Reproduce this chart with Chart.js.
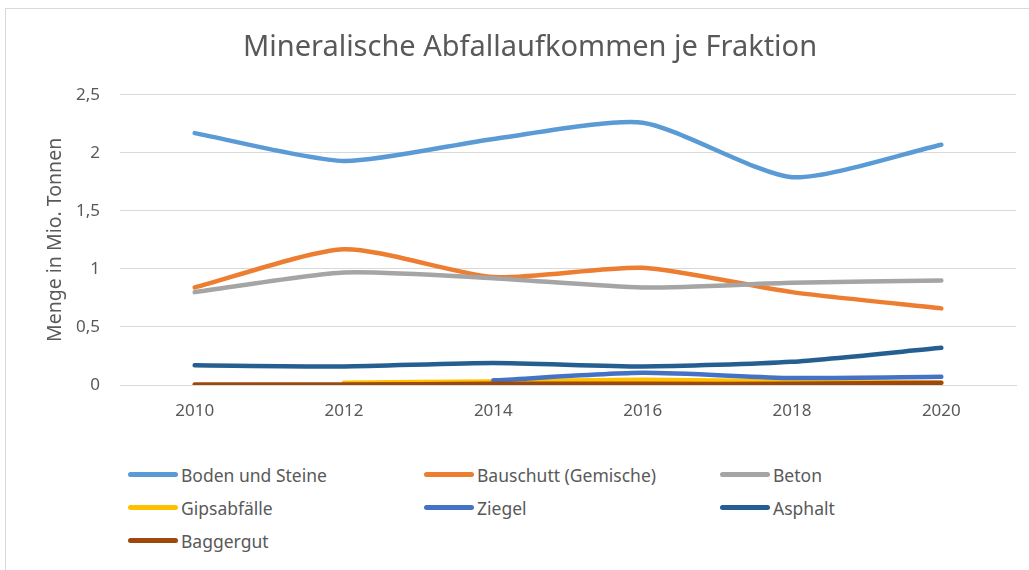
<!DOCTYPE html>
<html lang="de">
  <head>
    <meta charset="UTF-8" />
    <title>Mineralische Abfallaufkommen</title>
    <script src="https://cdn.jsdelivr.net/npm/chart.js"></script>
    <style>
      body { margin: 0; background: #fff; width: 1029px; height: 570px; overflow: hidden; position: relative; }
      #frame { position: absolute; left: 5px; top: 8px; width: 1040px; height: 600px; border: 1px solid #d9d9d9; box-sizing: border-box; }
      #box { position: absolute; left: 0; top: 0; width: 1029px; height: 441px; }
      #legend { position: absolute; left: 128px; top: 458px; display: grid; grid-template-columns: 296px 296px 296px; grid-auto-rows: 33px; }
      .item { display: flex; align-items: center; font: 17.5px "Noto Sans", sans-serif; color: #595959; }
      .swatch { width: 50px; height: 5px; border-radius: 3px; margin-right: 3px; }
    </style>
  </head>
  <body>
    <div id="frame"></div>
    <div id="box"><canvas id="chart"></canvas></div>
    <div id="legend"></div>

    <script>
      // Jahre und Werte (Mio. Tonnen)
      const years = ["2010", "2012", "2014", "2016", "2018", "2020"];
      const names = ["Boden und Steine", "Bauschutt (Gemische)", "Beton", "Gipsabfälle", "Ziegel", "Asphalt", "Baggergut"];
      const colors = ["#5B9BD5", "#ED7D31", "#A5A5A5", "#FFC000", "#4472C4", "#255E91", "#9E480E"];

      const bodenUndSteine = [2.17, 1.93, 2.12, 2.26, 1.79, 2.07];
      const bauschutt = [0.84, 1.17, 0.93, 1.01, 0.8, 0.66];
      const beton = [0.8, 0.97, 0.92, 0.84, 0.88, 0.9];
      const gipsabfaelle = [null, 0.02, 0.03, 0.045, 0.03, 0.02];
      const ziegel = [null, null, 0.04, 0.105, 0.06, 0.07];
      const asphalt = [0.17, 0.16, 0.19, 0.16, 0.2, 0.32];
      const baggergut = [0.005, 0.005, 0.01, 0.01, 0.01, 0.02];

      const yTicks = [0, 0.5, 1, 1.5, 2, 2.5];

      const series = [bodenUndSteine, bauschutt, beton, gipsabfaelle, ziegel, asphalt, baggergut];
      const font = "'Noto Sans', sans-serif";
      const grey = "#595959";

      const datasets = series.map((values, i) => ({
        label: names[i],
        data: values,
        borderColor: colors[i],
        backgroundColor: colors[i],
        borderWidth: 4.5,
        borderCapStyle: "round",
        pointRadius: 0,
        tension: 0.22,
        order: series.length - i,
      }));

      const ctx = document.getElementById("chart").getContext("2d");
      const chart = new Chart(ctx, {
        type: "line",
        data: { labels: years, datasets: datasets },
        options: {
          responsive: true,
          maintainAspectRatio: false,
          animation: false,
          layout: { padding: { left: 44, right: 13, top: 0, bottom: 16 } },
          plugins: {
            legend: { display: false },
            tooltip: { enabled: false },
            title: {
              display: true,
              text: "Mineralische Abfallaufkommen je Fraktion",
              color: grey,
              font: { family: font, size: 29, weight: "normal" },
              padding: { top: 30, bottom: 30 },
            },
          },
          scales: {
            x: {
              offset: true,
              grid: { display: false, drawTicks: false },
              border: { color: "#d9d9d9" },
              ticks: { color: grey, font: { family: font, size: 17 }, padding: 16, maxRotation: 0 },
              afterFit: (s) => { s.height = 40; },
            },
            y: {
              min: 0,
              max: 2.5,
              afterBuildTicks: (s) => { s.ticks = yTicks.map((v) => ({ value: v })); },
              grid: { color: "#d9d9d9", drawTicks: false },
              border: { display: false },
              ticks: {
                color: grey,
                font: { family: font, size: 17 },
                padding: 20,
                callback: (v) => String(v).replace(".", ","),
              },
              title: {
                display: true,
                text: "Menge in Mio. Tonnen",
                color: grey,
                font: { family: font, size: 19.5 },
                padding: 0,
              },
              afterFit: (s) => { s.width = 76; },
            },
          },
        },
      });

      // Legende in drei Spalten wie im Original
      const legend = document.getElementById("legend");
      chart.data.datasets.forEach((ds) => {
        const item = document.createElement("div");
        item.className = "item";
        const sw = document.createElement("span");
        sw.className = "swatch";
        sw.style.background = ds.borderColor;
        const txt = document.createElement("span");
        txt.textContent = ds.label;
        item.appendChild(sw);
        item.appendChild(txt);
        legend.appendChild(item);
      });
    </script>
  </body>
</html>
